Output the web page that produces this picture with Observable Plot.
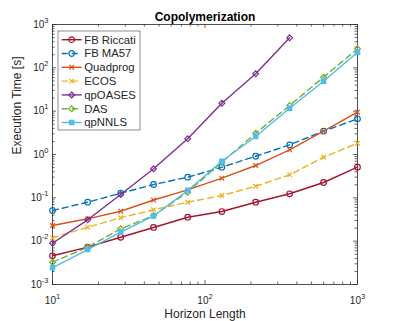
<!DOCTYPE html>
<html>
<head>
<meta charset="utf-8">
<script src="https://cdn.jsdelivr.net/npm/d3@7"></script>
<script src="https://cdn.jsdelivr.net/npm/@observablehq/plot@0.6"></script>
<style>
  html, body { margin: 0; padding: 0; background: #fff; }
  #chart { width: 395px; height: 321px; }
</style>
</head>
<body>
<div id="chart"></div>
<script>
// ---- Data ----
const title = "Copolymerization";
const xLabel = "Horizon Length";
const yLabel = "Execution Time [s]";

const horizon = [10, 17, 28, 46, 77, 129, 215, 359, 599, 1000];

const fbRiccati = [0.0046, 0.0073, 0.0123, 0.0207, 0.0357, 0.0483, 0.0792, 0.124, 0.226, 0.509];
const fbMA57    = [0.0509, 0.0792, 0.128, 0.203, 0.299, 0.509, 0.912, 1.67, 3.45, 6.66];
const quadprog  = [0.0230, 0.0328, 0.0491, 0.089, 0.153, 0.284, 0.557, 1.28, 3.45, 9.46];
const ecos      = [0.0119, 0.0210, 0.0346, 0.053, 0.0792, 0.113, 0.185, 0.340, 0.865, 1.82];
const qpOASES   = [0.00897, 0.0311, 0.119, 0.468, 2.30, 15.3, 72.8, 493];
const das       = [0.00327, 0.00725, 0.0193, 0.0391, 0.135, 0.664, 3.10, 13.5, 60.8, 275];
const qpNNLS    = [0.00243, 0.00641, 0.0161, 0.0381, 0.148, 0.70, 2.60, 11.7, 49.1, 230];

const seriesNames = ["FB Riccati", "FB MA57", "Quadprog", "ECOS", "qpOASES", "DAS", "qpNNLS"];
const seriesValues = [fbRiccati, fbMA57, quadprog, ecos, qpOASES, das, qpNNLS];

const xMajor = [10, 100, 1000];
const yMajor = [1e-3, 1e-2, 1e-1, 1e0, 1e1, 1e2, 1e3];

// ---- Styles ----
const styles = [
  {color: "#A2142F", dash: null,  symbol: d3.symbolCircle,   r: 2.8, fill: "none"},
  {color: "#0072BD", dash: "6,4", symbol: d3.symbolCircle,   r: 2.8, fill: "none"},
  {color: "#D95319", dash: null,  symbol: d3.symbolTimes,    r: 2.2, fill: "none"},
  {color: "#EDB120", dash: "6,4", symbol: d3.symbolTimes,    r: 2.2, fill: "none"},
  {color: "#7E2F8E", dash: null,  symbol: d3.symbolDiamond2, r: 2.6, fill: "none"},
  {color: "#77AC30", dash: "6,4", symbol: d3.symbolDiamond2, r: 2.6, fill: "none"},
  {color: "#4DBEEE", dash: null,  symbol: d3.symbolSquare,   r: 2.4, fill: "#4DBEEE"}
];

const rows = seriesNames.flatMap((name, k) =>
  seriesValues[k].map((v, i) => ({name, x: horizon[i], y: v})));

// minor ticks (2..9 within each decade)
const xMinor = [], yMinor = [];
for (const d of [10, 100]) for (let m = 2; m <= 9; m++) xMinor.push(d * m);
for (const d of [1e-3, 1e-2, 1e-1, 1, 10, 100]) for (let m = 2; m <= 9; m++) yMinor.push(d * m);

const W = 395, H = 321, mL = 52, mR = 38, mT = 24, mB = 37;
const fw = W - mL - mR, fh = H - mT - mB;
const axisColor = "#262626";
const font = "'Liberation Sans', Arial, Helvetica, sans-serif";

const marks = [];
// tick marks (inward, on all four sides)
for (const [vals, len] of [[xMajor, 4], [xMinor, 2.5]]) {
  marks.push(Plot.ruleX(vals, {x: d => d, stroke: axisColor, strokeWidth: 0.7, insetTop: fh - len}));
  marks.push(Plot.ruleX(vals, {x: d => d, stroke: axisColor, strokeWidth: 0.7, insetBottom: fh - len}));
}
for (const [vals, len] of [[yMajor, 4], [yMinor, 2.5]]) {
  marks.push(Plot.ruleY(vals, {y: d => d, stroke: axisColor, strokeWidth: 0.7, insetRight: fw - len}));
  marks.push(Plot.ruleY(vals, {y: d => d, stroke: axisColor, strokeWidth: 0.7, insetLeft: fw - len}));
}
marks.push(Plot.frame({stroke: axisColor, strokeWidth: 0.8}));

// series
seriesNames.forEach((name, k) => {
  const s = styles[k];
  const data = rows.filter(d => d.name === name);
  marks.push(Plot.line(data, {x: "x", y: "y", stroke: s.color, strokeWidth: 1.4, strokeDasharray: s.dash}));
  marks.push(Plot.dot(data, {x: "x", y: "y", symbol: s.symbol, r: s.r, stroke: s.color, fill: s.fill, strokeWidth: 1.2}));
});

// tick labels (exponent rewritten as superscript afterwards)
marks.push(Plot.text(xMajor, {x: d => d, frameAnchor: "bottom", dy: 12, lineAnchor: "top",
  text: d => String(Math.round(Math.log10(d))), fontSize: 10, fill: axisColor}));
marks.push(Plot.text(yMajor, {y: d => d, frameAnchor: "left", dx: -4, textAnchor: "end",
  text: d => String(Math.round(Math.log10(d))), fontSize: 10, fill: axisColor}));

// axis labels and title
marks.push(Plot.text([xLabel], {text: d => d, frameAnchor: "bottom", dy: 33, fontSize: 12, fill: axisColor}));
marks.push(Plot.text([yLabel], {text: d => d, frameAnchor: "left", dx: -35, rotate: -90, fontSize: 12, fill: axisColor}));
marks.push(Plot.text([title], {text: d => d, frameAnchor: "top", dy: -12, fontSize: 12, fontWeight: "bold", fill: "#000"}));

const chart = Plot.plot({
  width: W, height: H,
  marginLeft: mL, marginRight: mR, marginTop: mT, marginBottom: mB,
  x: {type: "log", domain: [10, 1000], axis: null},
  y: {type: "log", domain: [1e-3, 1e3], axis: null},
  style: {fontFamily: font, background: "#fff", overflow: "visible"},
  marks
});

// superscript exponents on the tick labels
const ns = "http://www.w3.org/2000/svg";
chart.querySelectorAll("text").forEach(t => {
  const e = t.textContent;
  if (!/^-?\d$/.test(e)) return;
  t.textContent = "";
  const base = document.createElementNS(ns, "tspan");
  base.textContent = "10";
  const sup = document.createElementNS(ns, "tspan");
  sup.textContent = e;
  sup.setAttribute("dy", "-5");
  sup.setAttribute("font-size", "7.5");
  t.appendChild(base);
  t.appendChild(sup);
});

// legend (inside the axes, top-left)
const svg = d3.select(chart);
const lg = svg.append("g").attr("font-family", font).attr("font-size", 11.3)
  .attr("fill", axisColor).attr("text-anchor", "start");
const lx = mL + 6, ly = mT + 7, rowH = 13.8;
lg.append("rect").attr("x", lx).attr("y", ly).attr("width", 82).attr("height", 99)
  .attr("fill", "#fff").attr("stroke", "#444").attr("stroke-width", 0.6);
seriesNames.forEach((name, k) => {
  const s = styles[k];
  const cy = ly + 8.7 + k * rowH;
  lg.append("line").attr("x1", lx + 3.7).attr("x2", lx + 23.7).attr("y1", cy).attr("y2", cy)
    .attr("stroke", s.color).attr("stroke-width", 1.4).attr("stroke-dasharray", s.dash);
  lg.append("path").attr("d", d3.symbol(s.symbol, Math.PI * s.r * s.r)())
    .attr("transform", `translate(${lx + 13.7},${cy})`)
    .attr("stroke", s.color).attr("fill", s.fill).attr("stroke-width", 1.2);
  lg.append("text").attr("x", lx + 26.3).attr("y", cy).attr("dy", "0.35em")
    .attr("text-anchor", "start").text(name);
});

document.getElementById("chart").appendChild(chart);
</script>
</body>
</html>
